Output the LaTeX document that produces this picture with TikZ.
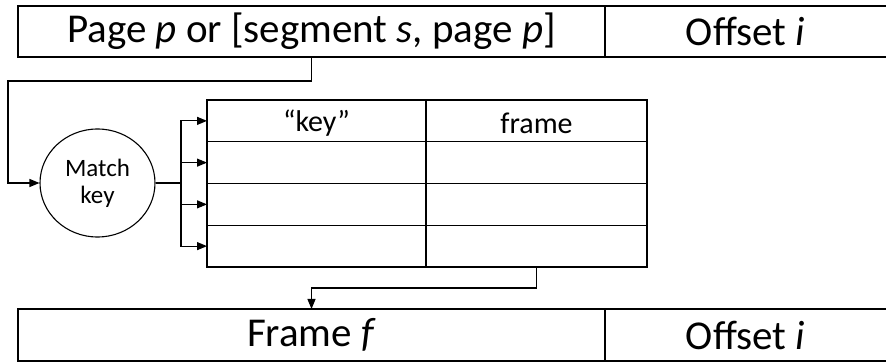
\documentclass[tikz,border=0pt]{standalone}
\usepackage{fontspec}
\setmainfont{Carlito}
\usetikzlibrary{shapes.geometric,arrows.meta}
\begin{document}
\begin{tikzpicture}[x=1pt,y=-1pt,
  box/.style={draw, line width=1.1pt, anchor=north west, inner sep=0pt, outer sep=0pt},
  cell/.style={box, minimum height=41.75pt},
  big/.style={font=\fontsize{41}{48}\selectfont},
  mid/.style={font=\fontsize{30}{34}\selectfont},
  arr/.style={line width=1.1pt, -{Triangle[length=10pt,width=8pt]}}]
\useasboundingbox (0,0) rectangle (886,363);
\clip (0,0) rectangle (886,363);
% top address
\node[box, big, minimum width=587pt, minimum height=51pt] (topL) at (18,6) {Page \textit{p} or [segment \textit{s}, page \textit{p}]};
\node[box, minimum width=300pt, minimum height=51pt] (topR) at (605,6) {};
\node[big] (topRt) at (745.5,31.5) {Offset \textit{i}};
% table
\foreach \i in {1,...,4} {
  \node[cell, minimum width=219pt] (r\i-a) at (207,{100+(\i-1)*41.75}) {};
  \node[cell, minimum width=221pt] (r\i-b) at (426,{100+(\i-1)*41.75}) {};
}
\node[mid] (hk) at ([yshift=-2pt]r1-a.center) {“key”};
\node[mid] (hf) at ([yshift=-2pt]r1-b.center) {frame};
% match key
\node[draw, ellipse, line width=1.1pt, minimum width=115pt, minimum height=108pt, inner sep=0pt, align=center, font=\fontsize{25}{27}\selectfont] (match) at (97.5,183) {Match\\key};
% bottom address
\node[box, big, minimum width=587pt, minimum height=52pt] (botL) at (18,309) {Frame \textit{f}};
\node[box, minimum width=300pt, minimum height=52pt] (botR) at (605,309) {};
\node[big] (botRt) at (745.5,335) {Offset \textit{i}};
% connectors
\coordinate (k2) at (8,81);
\draw[arr] (topL.south) |- (k2) |- (match.west);
\coordinate (tr) at (181,183);
\foreach \i in {1,...,4} \draw[arr] (match.east) -- (tr) |- (r\i-a.west);
\draw[arr] (r4-b.south) -- ++(0,21) -| (botL.north);
\end{tikzpicture}
\end{document}
